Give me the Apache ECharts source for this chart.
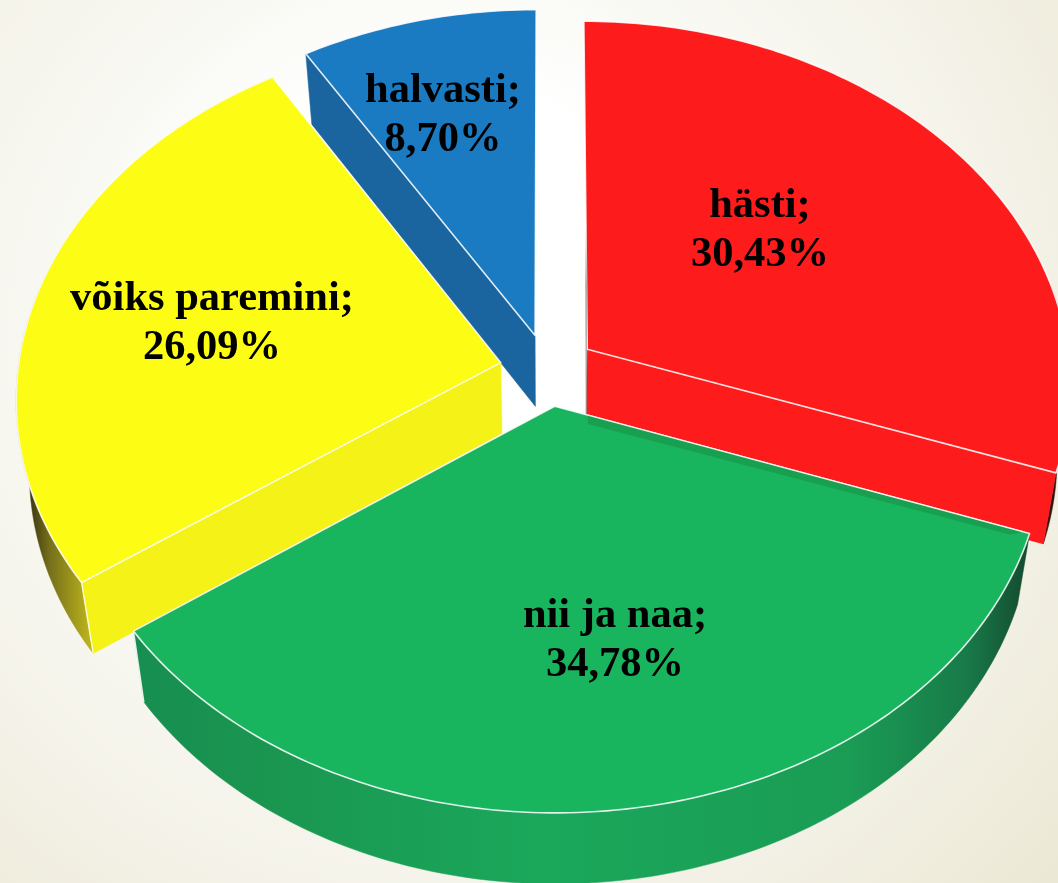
<!DOCTYPE html>
<html><head><meta charset="utf-8">
<style>html,body{margin:0;padding:0;width:100%;height:100%;overflow:hidden}#c{width:1058px;height:883px}</style>
<script src="https://cdn.jsdelivr.net/npm/echarts@6/dist/echarts.min.js"></script>
</head><body><div id="c"></div>
<script>
const categories = ['hästi', 'nii ja naa', 'võiks paremini', 'halvasti'];
const values = [30.43, 34.78, 26.09, 8.70];
const topColors = ['#fd1b1b', '#18b45e', '#fcfc14', '#1a7ac2'];
const cutColors = ['#fd1b1b', '#18a85b', '#f4f216', '#1a659f'];
const paintOrder = [2, 4, 3, 1];
const labelSpots = [[760, 231], [615, 641], [212, 324], [443, 116]];

const view = {cx: 548, cy: 370, rx: 483, ry: 362, perspX: 0.095, perspY: 0.0925, depth: 71, shrink: 0.025, explode: 0.1};
const edge = 'rgba(255,255,255,0.85)';
const total = values.reduce((a, b) => a + b, 0);
const starts = values.map((v, i) => values.slice(0, i).reduce((a, b) => a + b, 0) / total * 360);

function project(X, Y, z) {
  const sx = 1 / (1 + view.perspX * Y), sy = 1 / (1 + view.perspY * Y);
  return [view.cx + X * view.rx * sx * (1 - view.shrink * z), view.cy - Y * view.ry * sy + z * view.depth];
}
function grad(stops) {
  return {type: 'linear', x: 0, y: 0, x2: 1, y2: 0, colorStops: stops.map(s => ({offset: s[0], color: s[1]}))};
}
const arcFills = [
  grad([[0, '#3a1010'], [1, '#2a1010']]),
  grad([[0, '#168e50'], [0.12, '#1a9450'], [0.45, '#1aa85b'], [0.8, '#1a9c55'], [0.93, '#187a48'], [1, '#14492f']]),
  grad([[0, '#2e2a0c'], [0.05, '#3a3510'], [0.13, '#77701a'], [0.29, '#c0b81c'], [1, '#c0b81c']]),
  grad([[0, '#1a659f'], [1, '#1a659f']])
];
const RAD = Math.PI / 180;

function renderSlice(params, api) {
  const i = params.dataIndex;
  const sweep = api.value(0) / total * 360;
  const a0 = starts[i], a1 = a0 + sweep, mid = (a0 + a1) / 2;
  const ox = Math.sin(mid * RAD) * view.explode, oy = Math.cos(mid * RAD) * view.explode;
  const at = (deg, r, z) => project(ox + Math.sin(deg * RAD) * r, oy + Math.cos(deg * RAD) * r, z);
  const arc = (z, from) => { const p = []; for (let d = from; d < a1; d += 1) p.push(at(d, 1, z)); p.push(at(a1, 1, z)); return p; };
  const base = paintOrder[i] * 10;
  const kids = [];
  const poly = (pts, fill, stroke, z2) => kids.push({type: 'polygon', z2: base + z2, shape: {points: pts},
    style: {fill: fill, stroke: stroke || fill, lineWidth: stroke ? 1.6 : 0.5, lineJoin: 'round'}});
  // outer rim: only the part that faces the viewer
  if (i !== 3) {
    const from = i === 0 ? a1 - 30 : a0;
    poly(arc(0, from).concat(arc(1, from).reverse()), arcFills[i], null, 0);
  }
  // visible cut faces
  if (i === 0) poly([at(0, 0, 0), at(a1, 1, 0), at(a1, 1, 1), at(0, 0, 1)], cutColors[i], null, 1);
  if (i === 2 || i === 3) poly([at(0, 0, 0), at(a0, 1, 0), at(a0, 1, 1), at(0, 0, 1)], cutColors[i], null, 1);
  // corner line on the wall
  if (i === 2 || i === 1) {
    const e = i === 2 ? a0 : a1;
    const p = at(e, 1, 0), q = at(e, 1, 1);
    kids.push({type: 'line', z2: base + 2, shape: {x1: p[0], y1: p[1], x2: q[0], y2: q[1]}, style: {stroke: edge, lineWidth: 1.4}});
  }
  // top face
  poly([at(0, 0, 0)].concat(arc(0, a0)), topColors[i], edge, 3);
  // grey shade down the red slice's left edge
  if (i === 0) {
    const p = at(a0, 0.35, 0), q = at(a0, 0, 1);
    kids.push({type: 'line', z2: base + 4, shape: {x1: p[0], y1: p[1], x2: q[0], y2: q[1]},
      style: {lineWidth: 1.2, stroke: {type: 'linear', x: 0, y: 0, x2: 0, y2: 1, global: false,
        colorStops: [{offset: 0, color: 'rgba(120,120,120,0)'}, {offset: 0.3, color: 'rgba(110,110,110,0.8)'}, {offset: 1, color: 'rgba(150,150,150,0.8)'}]}}});
  }
  // shadow the red slice casts onto the green top
  if (i === 1) {
    const a = at(a0, 0, 0), b = at(a0, 1, 0);
    const t0 = 0.07, t1 = 0.985;
    const A = [a[0] + (b[0] - a[0]) * t0, a[1] + (b[1] - a[1]) * t0], B = [a[0] + (b[0] - a[0]) * t1, a[1] + (b[1] - a[1]) * t1];
    kids.push({type: 'polygon', z2: base + 4, shape: {points: [A, B, [B[0] - 12, B[1] + 3], [A[0], A[1] + 9]]},
      style: {fill: '#189f50'}});
    kids.push({type: 'line', z2: base + 5, shape: {x1: A[0], y1: A[1], x2: B[0], y2: B[1]}, style: {stroke: edge, lineWidth: 1.4}});
  }
  const pct = api.value(0).toFixed(2).replace('.', ',') + '%';
  kids.push({type: 'text', z2: 200, x: labelSpots[i][0], y: labelSpots[i][1],
    style: {text: categories[i] + ';\n' + pct, fill: '#000', align: 'center', verticalAlign: 'middle',
      font: 'bold 42.5px "Liberation Serif", serif', lineHeight: 49}});
  return {type: 'group', children: kids};
}

const chart = echarts.init(document.getElementById('c'), null, {renderer: 'canvas'});
chart.setOption({
  animation: false,
  backgroundColor: {type: 'radial', x: 0.42, y: 0.38, r: 0.93, colorStops: [
    {offset: 0, color: '#ffffff'}, {offset: 0.3, color: '#ffffff'}, {offset: 0.46, color: '#f9f9f4'},
    {offset: 0.7, color: '#f4f2e8'}, {offset: 0.88, color: '#efecdc'}, {offset: 1, color: '#ebe8d5'}]},
  series: [{type: 'custom', coordinateSystem: 'none', renderItem: renderSlice, silent: true,
    data: values.map((v, i) => ({value: [v], name: categories[i]})), encode: {value: 0}}]
});
</script></body></html>
